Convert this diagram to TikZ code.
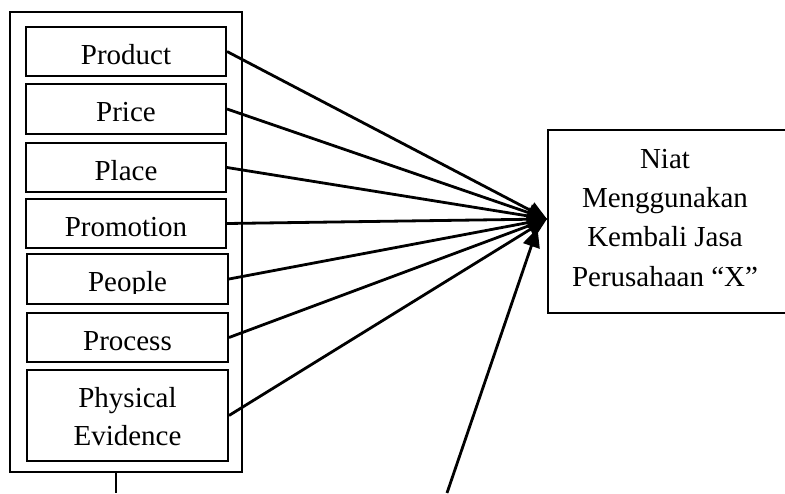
\documentclass[tikz,border=0pt]{standalone}
\usepackage{fontspec}
\setmainfont{Liberation Serif}
\usetikzlibrary{arrows.meta}
\begin{document}
\begin{tikzpicture}[x=1pt,y=-1pt,
  box/.style={draw=black,line width=2pt,rectangle,inner sep=0pt},
  txt/.style={anchor=base,inner sep=0pt,font=\fontsize{29}{39}\selectfont},
  conn/.style={line width=2.8pt,-{Triangle[length=19pt,width=17pt]}}]
\clip (0,0) rectangle (785,493);
\fill[white] (0,0) rectangle (785,493);
% outer frame
\node[box,minimum width=232.5pt,minimum height=460pt] (outer) at (125.75,242) {};
% inner boxes
\node[box,minimum width=200pt,minimum height=49pt] (prod) at (126,51.5) {};
\node[box,minimum width=200pt,minimum height=50pt] (price) at (126,109) {};
\node[box,minimum width=200pt,minimum height=49pt] (place) at (126,167.5) {};
\node[box,minimum width=200pt,minimum height=49pt] (promo) at (126,223.5) {};
\node[box,minimum width=201pt,minimum height=50pt] (people) at (127.5,279) {};
\node[box,minimum width=201pt,minimum height=49pt] (proc) at (127.5,337.5) {};
\node[box,minimum width=201pt,minimum height=91pt] (phys) at (127.5,415.5) {};
% texts
\node[txt] (prodT) at (126,64) {Product};
\node[txt] (priceT) at (126,121) {Price};
\node[txt] (placeT) at (126,180) {Place};
\node[txt] (promoT) at (126,236.5) {Promotion};
\begin{scope}
\clip (0,0) rectangle (785,293);
\node[txt] (peopleT) at (127.5,291) {People};
\end{scope}
\node[txt] (procT) at (127.5,350) {Process};
\node[txt] (physT1) at (127.5,407) {Physical};
\node[txt] (physT2) at (127.5,445.5) {Evidence};
% target box
\node[box,minimum width=239pt,minimum height=183pt] (niat) at (667.5,221.5) {};
\node[txt] (n1) at (665,168) {Niat};
\node[txt] (n2) at (665,207.5) {Menggunakan};
\node[txt] (n3) at (665,246.5) {Kembali Jasa};
\node[txt] (n4) at (665,286) {Perusahaan “X”};
% connectors
\coordinate (tip) at (547,219);
\foreach \s in {prod,price,place,promo,people,proc,phys}
  \draw[conn] (\s.east) -- (tip);
\coordinate (low) at (116,493);
\draw[line width=2.4pt] (outer.south -| low) -- (low);
\coordinate (from) at (447,493);
\coordinate (tip2) at (537.5,228);
\draw[conn] (from) -- (tip2);
\end{tikzpicture}
\end{document}
